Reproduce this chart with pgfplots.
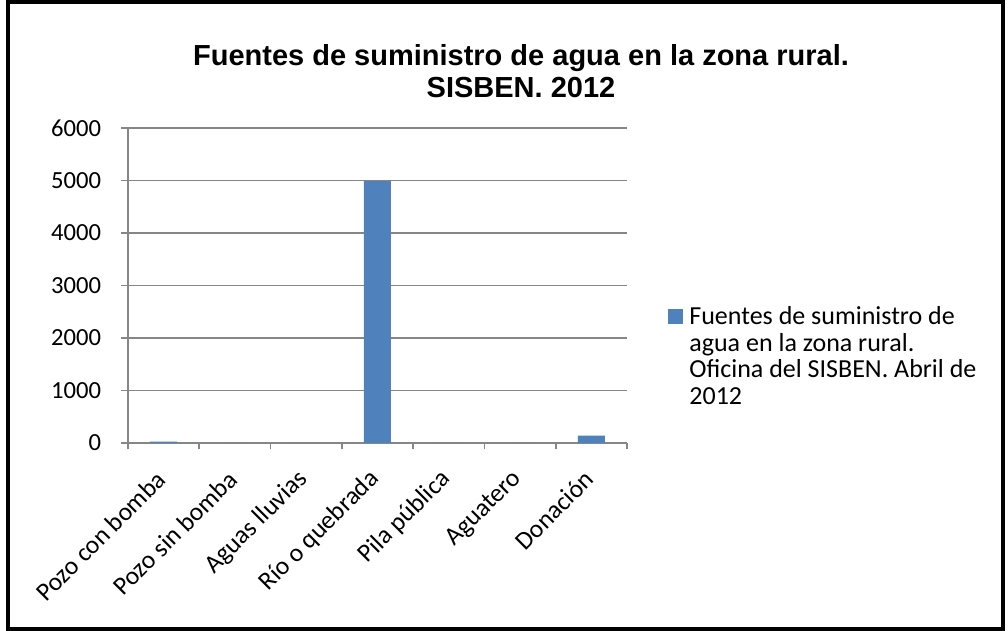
\documentclass[border=0pt]{standalone}
\usepackage{fontspec}
\setmainfont{Carlito}
\newfontfamily\titlefont{Liberation Sans}
\usepackage{pgfplots}
\pgfplotsset{compat=1.18}
\definecolor{barblue}{HTML}{4F81BD}
\definecolor{axgray}{HTML}{868686}
\begin{document}
\begin{tikzpicture}[x=0.5pt,y=0.5pt]
\useasboundingbox (0,0) rectangle (1008,631);
\fill[white] (0,0) rectangle (1008,631);
\draw[line width=2pt] (8,1.5) rectangle (1003,628.5);
\node[font=\titlefont\bfseries\fontsize{14.5}{16}\selectfont, anchor=base, inner sep=0pt] at (521,565) {Fuentes de suministro de agua en la zona rural.};
\node[font=\titlefont\bfseries\fontsize{14.5}{16}\selectfont, anchor=base, inner sep=0pt] at (521,533) {SISBEN. 2012};
\begin{axis}[
  at={(64pt,94pt)}, anchor=south west,
  scale only axis, width=249.5pt, height=157.5pt,
  xmin=-0.5, xmax=6.5, ymin=0, ymax=6000,
  ybar, bar width=13.5pt,
  xtick={-0.5,0.5,...,6.5}, xticklabels={},
  extra x ticks={0,1,2,3,4,5,6},
  extra x tick labels={Pozo con bomba,Pozo sin bomba,Aguas lluvias,Río o quebrada,Pila pública,Aguatero,Donación},
  extra x tick style={major tick length=0pt, grid=none,
    tick label style={xshift=-1pt, yshift=-16pt, rotate=45, anchor=east, inner sep=0pt, font=\fontsize{12.8}{14}\selectfont}},
  ytick={0,1000,...,6000},
  ymajorgrids, grid style={axgray, line width=0.6pt},
  axis x line*=bottom, axis y line*=left,
  axis line style={axgray, line width=0.8pt, -},
  tick align=outside, major tick length=3.25pt,
  tick style={axgray, line width=0.8pt},
  every tick label/.append style={font=\fontsize{12.3}{14}\selectfont},
  yticklabel style={anchor=east, inner sep=0pt, xshift=-10pt},
  /pgf/number format/assume math mode=true,
  /pgf/number format/1000 sep={},
  legend style={at={(rel axis cs:1.0822,0.4476)}, anchor=north west, draw=none, fill=none,
    inner sep=0pt, font=\fontsize{13}{13.25}\selectfont,
    cells={anchor=base west, inner sep=0pt}, column sep=1pt},
  legend image code/.code={\fill[#1, draw=none] (0pt,0.5pt) rectangle (7.5pt,8pt);},
]
\addplot[fill=barblue, draw=none] coordinates {(0,25) (1,0) (2,0) (3,4990) (4,0) (5,0) (6,140)};
\addlegendentry{\begin{tabular}[t]{@{}l@{}}Fuentes de suministro de\\agua en la zona rural.\\Oficina del SISBEN. Abril de\\2012\end{tabular}}
\end{axis}
\end{tikzpicture}
\end{document}
